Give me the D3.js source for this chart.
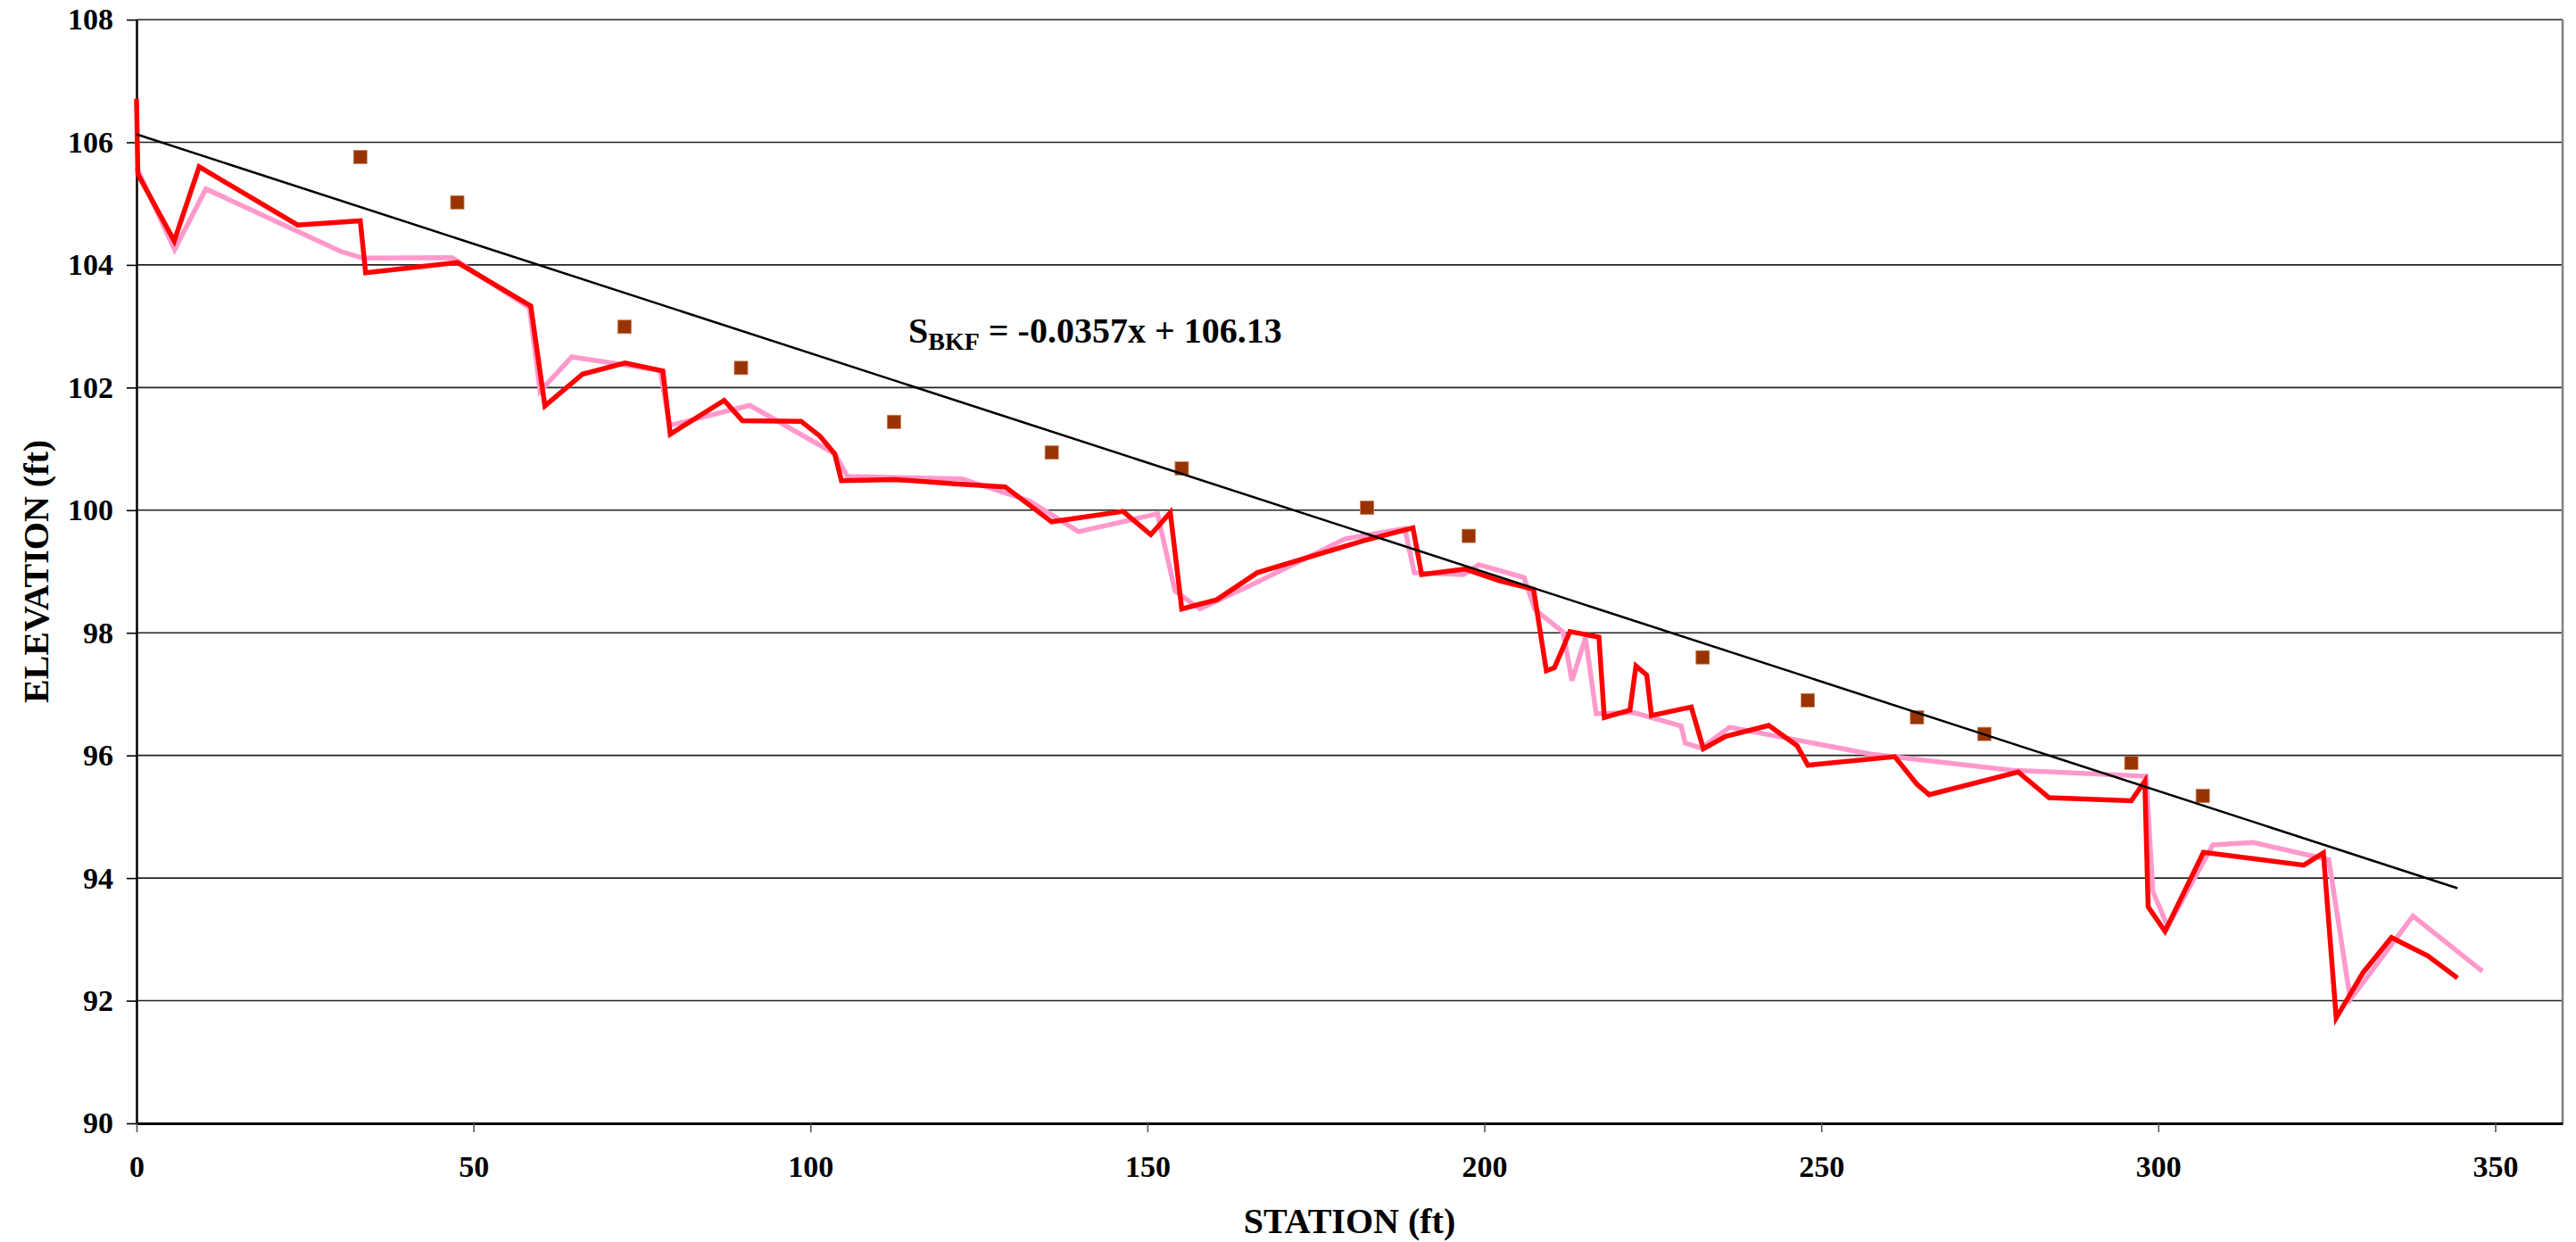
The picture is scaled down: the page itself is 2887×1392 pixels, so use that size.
<!DOCTYPE html>
<html lang="en">
<head>
    <meta charset="utf-8" />
    <title>Longitudinal Profile</title>
    <script src="https://d3js.org/d3.v7.min.js"></script>
    <style>
        body { margin: 0; background: #fff; }
    </style>
</head>
<body>
    <svg id="chart" width="2887" height="1392"></svg>
    <script>
        // Thalweg (current survey)
        const redStation = [0, 0.2, 5.6, 9.3, 23.9, 33.2, 34.0, 47.6, 58.5, 60.6, 66.2, 72.5, 78.1, 79.2, 87.2,
            89.9, 98.6, 101.4, 103.6, 104.6, 112.6, 121.4, 128.9, 135.8, 146.4, 150.5, 153.4, 155.1, 160.3, 166.3,
            182.0, 189.4, 190.7, 197.1, 202.2, 207.3, 209.2, 210.4, 212.7, 217.0, 217.8, 221.6, 222.5, 224.1, 224.8,
            230.7, 232.5, 235.8, 242.2, 246.4, 248.0, 260.9, 264.2, 266.0, 279.2, 283.8, 296.0, 298.0, 298.5, 301.0,
            306.7, 321.6, 324.5, 326.4, 330.4, 334.6, 340.0, 344.4];
        const redElev = [106.71, 105.48, 104.39, 105.60, 104.65, 104.72, 103.87, 104.04, 103.33, 101.70, 102.22, 102.40, 102.27, 101.24, 101.79,
            101.46, 101.45, 101.21, 100.92, 100.48, 100.50, 100.43, 100.38, 99.81, 99.98, 99.60, 99.96, 98.39, 98.54, 98.98,
            99.50, 99.71, 98.95, 99.04, 98.85, 98.71, 97.38, 97.43, 98.02, 97.93, 96.62, 96.74, 97.46, 97.31, 96.65,
            96.79, 96.11, 96.31, 96.49, 96.16, 95.84, 95.98, 95.53, 95.36, 95.73, 95.31, 95.26, 95.58, 93.53, 93.13,
            94.42, 94.21, 94.41, 91.72, 92.46, 93.03, 92.73, 92.37];

        // Thalweg (previous survey)
        const pinkStation = [0, 5.65, 10.3, 30.3, 33.6, 46.8, 58.3, 59.9, 64.6, 77.7, 79.1, 91.0, 103.6, 105.5, 122.5,
            132.5, 139.8, 151.5, 154.1, 157.8, 165.8, 179.3, 188.2, 189.6, 196.9, 199.2, 205.9, 207.5, 211.7, 213.0,
            215.0, 216.6, 222.1, 229.2, 229.8, 232.2, 236.4, 257.4, 278.2, 298.2, 299.2, 301.4, 308.1, 314.1, 325.3,
            328.5, 337.8, 348.1];
        const pinkElev = [105.59, 104.25, 105.24, 104.22, 104.11, 104.12, 103.30, 101.94, 102.50, 102.28, 101.38, 101.71, 100.92, 100.55, 100.51,
            100.15, 99.65, 99.94, 98.68, 98.39, 98.80, 99.53, 99.70, 98.98, 98.95, 99.11, 98.90, 98.38, 98.01, 97.22,
            97.92, 96.68, 96.70, 96.48, 96.20, 96.12, 96.46, 96.02, 95.76, 95.66, 93.78, 93.21, 94.54, 94.58, 94.30,
            92.02, 93.38, 92.48];

        // Bankfull points
        const bkfStation = [33.2, 47.6, 72.4, 89.7, 112.4, 135.8, 155.1, 182.6, 197.7, 232.4, 248.0, 264.2, 274.2, 296.0, 306.6];
        const bkfElev = [105.76, 105.02, 102.99, 102.32, 101.44, 100.94, 100.68, 100.04, 99.58, 97.60, 96.90, 96.62, 96.35, 95.88, 95.34];

        // Bankfull slope trendline
        const trendSlope = -0.0357;
        const trendIntercept = 106.13;
        const trendRange = [0, 344.4];

        const xTicks = [0, 50, 100, 150, 200, 250, 300, 350];
        const yTicks = [90, 92, 94, 96, 98, 100, 102, 104, 106, 108];

        const width = 2887;
        const height = 1392;
        const margin = { top: 22, right: 15, bottom: 133, left: 153 };
        const font = '"Liberation Serif", "Times New Roman", serif';

        const svg = d3.select("#chart");

        const x = d3.scaleLinear().domain([0, 360]).range([margin.left, width - margin.right]);
        const y = d3.scaleLinear().domain([90, 108]).range([height - margin.bottom, margin.top]);

        // gridlines
        svg.append("g")
            .selectAll("line")
            .data(yTicks.slice(1))
            .enter()
            .append("line")
            .attr("x1", x(0))
            .attr("x2", x(360))
            .attr("y1", d => y(d))
            .attr("y2", d => y(d))
            .attr("stroke", "#222")
            .attr("stroke-width", 1.6);

        // right border of plot area
        svg.append("line")
            .attr("x1", x(360)).attr("x2", x(360))
            .attr("y1", y(108)).attr("y2", y(90))
            .attr("stroke", "#808080")
            .attr("stroke-width", 2.5);

        // axes
        const yAxis = svg.append("g")
            .attr("transform", "translate(" + margin.left + ",0)")
            .call(d3.axisLeft(y).tickValues(yTicks).tickSize(11).tickPadding(15).tickSizeOuter(0));
        yAxis.select(".domain").attr("stroke", "#000").attr("stroke-width", 2.5);
        yAxis.selectAll(".tick line").attr("stroke", "#000").attr("stroke-width", 1.6);
        yAxis.selectAll(".tick text")
            .style("font-family", font).style("font-weight", "bold").style("font-size", "34px")
            .attr("fill", "#000");

        const xAxis = svg.append("g")
            .attr("transform", "translate(0," + (height - margin.bottom) + ")")
            .call(d3.axisBottom(x).tickValues(xTicks).tickSize(10).tickPadding(26).tickSizeOuter(0));
        xAxis.select(".domain").attr("stroke", "#000").attr("stroke-width", 3);
        xAxis.selectAll(".tick line").attr("stroke", "#555").attr("stroke-width", 1.6);
        xAxis.selectAll(".tick text")
            .style("font-family", font).style("font-weight", "bold").style("font-size", "34px")
            .attr("fill", "#000");

        const line = d3.line()
            .x(d => x(d[0]))
            .y(d => y(d[1]));

        // previous survey
        svg.append("path")
            .datum(pinkStation.map((s, i) => [s, pinkElev[i]]))
            .attr("fill", "none")
            .attr("stroke", "#FF99CC")
            .attr("stroke-width", 5.5)
            .attr("d", line);

        // current survey
        svg.append("path")
            .datum(redStation.map((s, i) => [s, redElev[i]]))
            .attr("fill", "none")
            .attr("stroke", "#FF0000")
            .attr("stroke-width", 5.5)
            .attr("d", line);

        // bankfull markers
        const sq = 15;
        svg.append("g")
            .selectAll("rect")
            .data(bkfStation.map((s, i) => [s, bkfElev[i]]))
            .enter()
            .append("rect")
            .attr("x", d => x(d[0]) - sq / 2)
            .attr("y", d => y(d[1]) - sq / 2)
            .attr("width", sq)
            .attr("height", sq)
            .attr("fill", "#993300")
            .attr("stroke", "#c0825c")
            .attr("stroke-width", 0.8);

        // trendline
        svg.append("path")
            .datum(trendRange.map(s => [s, trendSlope * s + trendIntercept]))
            .attr("fill", "none")
            .attr("stroke", "#000")
            .attr("stroke-width", 2.5)
            .attr("d", line);

        // equation label
        const eq = svg.append("text")
            .attr("x", 1018)
            .attr("y", 384)
            .style("font-family", font)
            .style("font-weight", "bold")
            .style("font-size", "40px");
        eq.append("tspan").text("S");
        eq.append("tspan").attr("dy", 8).style("font-size", "28px").text("BKF");
        eq.append("tspan").attr("dy", -8).text(" = -0.0357x + 106.13");

        // axis titles
        svg.append("text")
            .attr("x", (x(0) + x(360)) / 2)
            .attr("y", 1382)
            .attr("text-anchor", "middle")
            .style("font-family", font)
            .style("font-weight", "bold")
            .style("font-size", "40px")
            .text("STATION (ft)");

        svg.append("text")
            .attr("transform", "translate(54," + (y(90) + y(108)) / 2 + ") rotate(-90)")
            .attr("text-anchor", "middle")
            .style("font-family", font)
            .style("font-weight", "bold")
            .style("font-size", "40px")
            .text("ELEVATION (ft)");
    </script>
</body>
</html>
